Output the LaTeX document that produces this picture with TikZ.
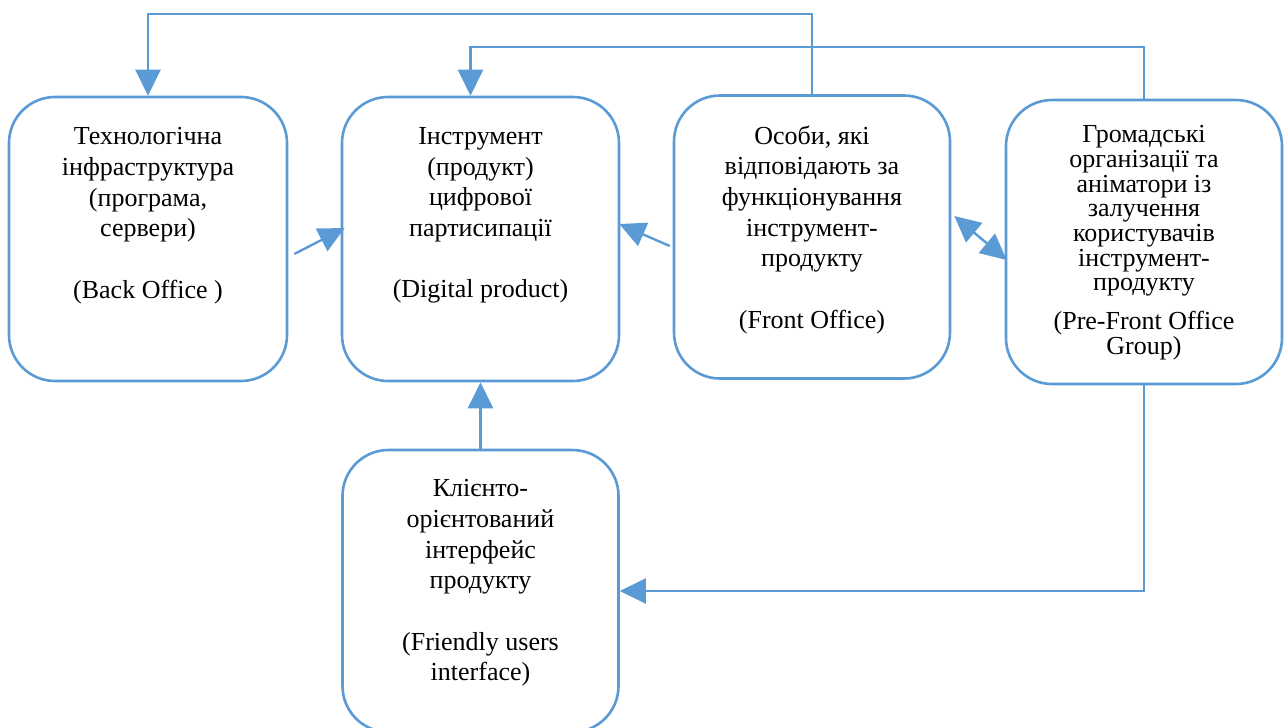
\documentclass[tikz,border=0pt]{standalone}
\usepackage{fontspec}
\setmainfont{Liberation Serif}
\usetikzlibrary{arrows.meta,calc}
\definecolor{lineblue}{HTML}{5B9BD5}
\begin{document}
\begin{tikzpicture}[x=1pt,y=-1pt,
  box/.style={draw=lineblue,line width=2.6pt,rounded corners=46pt,inner sep=0pt,fill=white},
  conn/.style={draw=lineblue,line width=2.4pt,-{Triangle[length=26pt,width=25pt]}},
  dconn/.style={draw=lineblue,line width=2.4pt,{Triangle[length=26pt,width=25pt]}-{Triangle[length=26pt,width=25pt]}},
  lbl/.style={anchor=north,inner sep=0pt,align=center,font=\fontsize{26}{30.7}\selectfont},
  lbltight/.style={anchor=north,inner sep=0pt,align=center,font=\fontsize{26}{24.7}\selectfont}]
\useasboundingbox (0,0) rectangle (1285,728);
\fill[white] (0,0) rectangle (1285,728);

\node[box,minimum width=278pt,minimum height=284pt] (A) at (148,239) {};
\node[box,minimum width=277pt,minimum height=284pt] (B) at (480.5,239) {};
\node[box,minimum width=276pt,minimum height=283pt] (C) at (812,237) {};
\node[box,minimum width=276pt,minimum height=284pt] (D) at (1144,242) {};
\node[box,minimum width=276pt,minimum height=282pt] (E) at (480.5,591) {};

\node[lbl] (At) at (148,127.2) {Технологічна\\інфраструктура\\(програма,\\сервери)\\[30.7pt](Back Office )};
\node[lbl] (Bt) at (480.5,127.2) {Інструмент\\(продукт)\\цифрової\\партисипації\\[30.7pt](Digital product)};
\node[lbl] (Ct) at (812,125.2) {Особи, які\\відповідають за\\функціонування\\інструмент-\\продукту\\[30.7pt](Front Office)};
\node[lbltight] (Dt) at (1144,125.2) {Громадські\\організації та\\аніматори із\\залучення\\користувачів\\інструмент-\\продукту\\[14pt](Pre-Front Office\\Group)};
\node[lbl] (Et) at (480.5,479.2) {Клієнто-\\орієнтований\\інтерфейс\\продукту\\[30.7pt](Friendly users\\interface)};

\coordinate (top1) at (812,14);
\coordinate (top2) at (1144,47);

\draw[conn] (C.north) -- (top1) -| (A.north);
\draw[conn] (D.north) -- (top2) -| ([xshift=-10pt]B.north);
\draw[conn] (E.north) -- (B.south);
\draw[conn] (D.south) |- (E.east);
\draw[conn] ($(A.east)+(6,15)$) -- ($(B.west)+(4,-11)$);
\draw[conn] ($(C.west)+(-3,9)$) -- ($(B.east)+(-1,-15)$);
\draw[dconn] ($(C.east)+(3,-21)$) -- ($(D.west)+(2,18)$);
\end{tikzpicture}
\end{document}
